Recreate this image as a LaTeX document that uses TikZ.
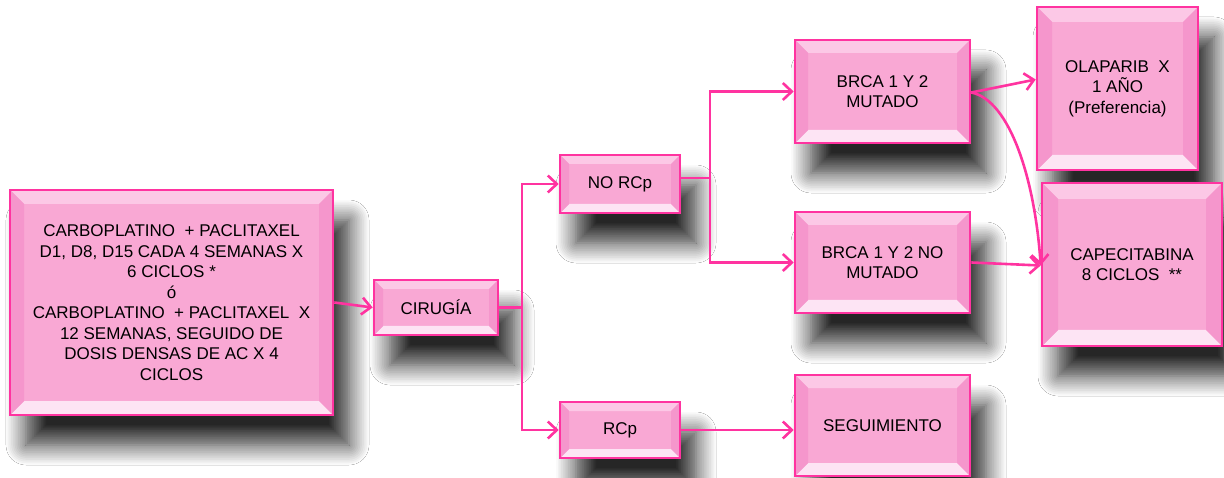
\documentclass[tikz,border=0pt]{standalone}
\usepackage{fontspec}
\setmainfont{Liberation Sans}
\usetikzlibrary{arrows.meta,shadows.blur,calc}
\definecolor{hotpink}{RGB}{255,51,160}
\definecolor{boxfill}{RGB}{249,168,212}
\definecolor{bevtop}{RGB}{252,200,230}
\definecolor{bevbot}{RGB}{253,228,244}
\definecolor{bevside}{RGB}{245,150,204}
\tikzset{
  bev/.store in=\bevw, bev=12pt,
  pbox/.style={draw=hotpink, line width=2.6pt, fill=boxfill, align=center,
    font=\fontsize{17}{20.5}\selectfont, inner sep=4pt,
    blur shadow={shadow xshift=16pt, shadow yshift=-30pt, shadow blur radius=20pt, shadow opacity=85, shadow blur steps=12},
    path picture={
      \path (path picture bounding box.south west) coordinate (bSW)
            (path picture bounding box.north east) coordinate (bNE);
      \path (bSW|-bNE) coordinate (bNW) (bNE|-bSW) coordinate (bSE);
      \fill[bevtop] (bNW) -- (bNE) -- ([shift={(-\bevw,-\bevw)}]bNE) -- ([shift={(\bevw,-\bevw)}]bNW) -- cycle;
      \fill[bevbot] (bSW) -- (bSE) -- ([shift={(-\bevw,\bevw)}]bSE) -- ([shift={(\bevw,\bevw)}]bSW) -- cycle;
      \fill[bevside] (bNW) -- (bSW) -- ([shift={(\bevw,\bevw)}]bSW) -- ([shift={(\bevw,-\bevw)}]bNW) -- cycle;
      \fill[bevside] (bNE) -- (bSE) -- ([shift={(-\bevw,\bevw)}]bSE) -- ([shift={(-\bevw,-\bevw)}]bNE) -- cycle;
    }},
  conn/.style={draw=hotpink, line width=2.6pt, -{Straight Barb[length=9pt,width=17pt,line width=2.6pt]}},
  plain/.style={draw=hotpink, line width=2.6pt}
}
\begin{document}
\begin{tikzpicture}[x=1pt,y=-1pt]
\useasboundingbox[fill=white] (0,0) rectangle (1224,478);
\node[pbox, bev=14pt, minimum width=323pt, minimum height=225pt] (main) at (171.5,302.5)
 {CARBOPLATINO\ \ + PACLITAXEL\\D1, D8, D15 CADA 4 SEMANAS X\\6 CICLOS *\\ó\\CARBOPLATINO\ \ + PACLITAXEL\ \ X\\12 SEMANAS, SEGUIDO DE\\DOSIS DENSAS DE AC X 4\\CICLOS};
\node[pbox, bev=9pt, minimum width=124pt, minimum height=55pt] (cir) at (436,307.5) {CIRUGÍA};
\node[pbox, bev=9pt, minimum width=120pt, minimum height=58pt] (norcp) at (620,184) {NO RCp};
\node[pbox, bev=9pt, minimum width=120pt, minimum height=56pt] (rcp) at (620,430) {RCp};
\node[pbox, bev=13pt, minimum width=175pt, minimum height=103pt] (brm) at (882.5,91.5) {BRCA 1 Y 2\\MUTADO};
\node[pbox, bev=13pt, minimum width=175pt, minimum height=101pt] (brn) at (882.5,262.5) {BRCA 1 Y 2 NO\\MUTADO};
\node[pbox, bev=13pt, minimum width=175pt, minimum height=101pt] (seg) at (882.5,425.5) {SEGUIMIENTO};
\node[pbox, bev=15pt, minimum width=161pt, minimum height=163pt] (ola) at (1117.5,88.5) {OLAPARIB\ \ X\\1 AÑO\\(Preferencia)};
\node[pbox, bev=16pt, minimum width=180pt, minimum height=163pt] (cap) at (1132,264.5) {CAPECITABINA\\8 CICLOS\ \ **};

\coordinate (j1) at (522,307.5);
\coordinate (j2) at (710,178);
\draw[conn] (main.east) -- (cir.west);
\draw[plain] (cir.east) -- (j1);
\draw[conn] (j1) |- (norcp.west);
\draw[conn] (j1) |- (rcp.west);
\draw[plain] (norcp.east|-j2) -- (j2);
\draw[conn] (j2) |- (brm.west);
\draw[conn] (j2) |- (brn.west);
\draw[conn] (rcp.east) -- (rcp.east-|seg.west);
\draw[conn] ($(brm.east)+(0,1)$) -- ($(ola.west)+(0,-9)$);
\draw[conn] ($(brm.east)+(0,1)$) .. controls (1010,100) and (1035,180) .. ($(cap.west)+(0,1)$);
\draw[conn] (brn.east) -- ($(cap.west)+(0,1)$);
\end{tikzpicture}
\end{document}
